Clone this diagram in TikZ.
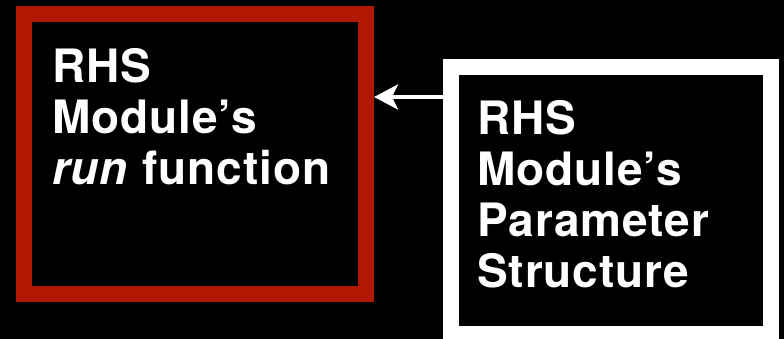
\documentclass[tikz,border=0pt]{standalone}
\usepackage{fontspec}
\setmainfont{TeX Gyre Heros}
\usetikzlibrary{positioning,arrows.meta}
\definecolor{runred}{RGB}{176,24,4}

\begin{document}
\begin{tikzpicture}[x=1pt, y=1pt,
  modbox/.style={rectangle, line width=16pt, fill=black},
  modtext/.style={text=white, font=\fontsize{46}{51}\selectfont\bfseries\addfontfeatures{LetterSpace=2},
    align=left, inner sep=0pt, anchor=base west}]
  % black page
  \fill[black] (0,0) rectangle (784,339);
  \useasboundingbox (0,0) rectangle (784,339);
  % the two boxes
  \node[modbox, draw=runred, minimum width=342pt, minimum height=280pt] (run) at (195,185) {};
  \node[modbox, draw=white, minimum width=320pt, minimum height=267pt] (param) at (611,138.5) {};
  % base anchor = baseline of the last line
  \node[modtext] (runtext) at ([xshift=36pt, yshift=-179pt]run.north west)
    {RHS\\Module’s\\\textit{run} function};
  \node[modtext] (paramtext) at ([xshift=34pt, yshift=-229pt]param.north west)
    {RHS\\Module’s\\Parameter\\Structure};
  % parameters feed the run function
  \draw[white, line width=4pt, -{Stealth[length=24pt, width=25pt, inset=6pt]}]
    ([yshift=-38pt]param.north west) -- ([yshift=-38pt]param.north west -| run.east);
\end{tikzpicture}
\end{document}
